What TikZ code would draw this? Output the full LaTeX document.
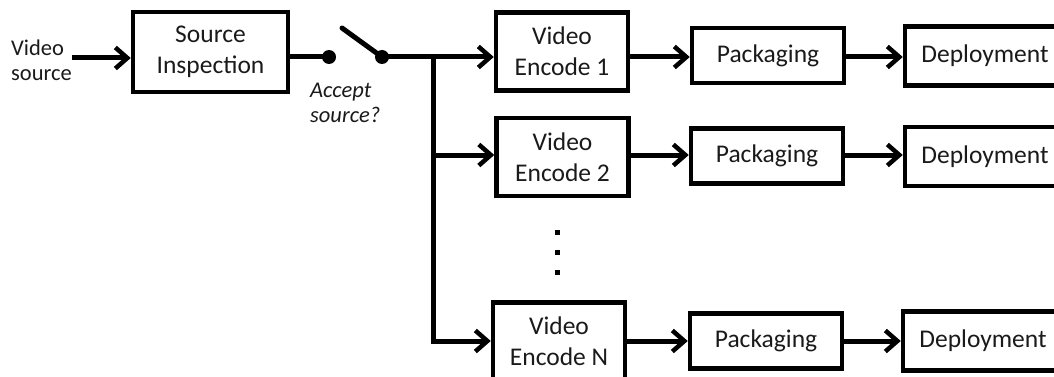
\documentclass[tikz,border=0pt]{standalone}
\usepackage{fontspec}
\setmainfont{Carlito}
\usetikzlibrary{arrows.meta}
\definecolor{ink}{HTML}{1A1A1A}
\tikzset{
  blk/.style={draw=black, line width=4.5pt, fill=white, text=ink, align=center,
              inner sep=0pt, font=\fontsize{25.5}{31}\selectfont},
  encbox/.style={blk, minimum width=132pt, minimum height=78pt},
  packbox/.style={blk, minimum width=152pt, minimum height=55pt},
  depbox/.style={blk, minimum width=160pt, minimum height=59pt},
  srcbox/.style={blk, minimum width=155pt, minimum height=80pt},
  wire/.style={line width=5pt, draw=black},
  arr/.style={wire, -{Straight Barb[length=12pt, width=21pt, line width=4.5pt]}},
  pin/.style={circle, fill=black, minimum size=14pt, inner sep=0pt},
  lbl/.style={text=ink, align=left, inner sep=0pt}
}
\begin{document}
\begin{tikzpicture}[x=1pt, y=-1pt, line join=miter]
\useasboundingbox (0,0) rectangle (1054,377);

% row levels of the signal lines
\coordinate (r1) at (0,57);
\coordinate (r2) at (0,155);
\coordinate (rN) at (0,341);

% input and inspection
\node[lbl, anchor=west, font=\fontsize{22.5}{25}\selectfont] (vin) at (11,60) {Video\\source};
\node[srcbox] (src) at (210.5,52) {Source\\Inspection};

% acceptance switch
\node[pin] (p1) at (329,57) {};
\node[pin] (p2) at (382,57) {};
\coordinate (lever) at (342,28);
\node[lbl, anchor=west, font=\fontsize{22.5}{25}\itshape\selectfont] (acc) at (310,103) {Accept\\source?};

% encoder branches
\node[encbox] (e1) at (562,51.5) {Video\\Encode 1};
\node[encbox] (e2) at (562.5,157) {Video\\Encode 2};
\node[encbox] (eN) at (559,341.5) {Video\\Encode N};

\node[packbox] (k1) at (768,55.5) {Packaging};
\node[packbox] (k2) at (767,156) {Packaging};
\node[packbox] (kN) at (766,341) {Packaging};

\node[depbox] (d1) at (985,56) {Deployment};
\node[depbox] (d2) at (985,156.5) {Deployment};
\node[depbox] (dN) at (983,341) {Deployment};

% more encoders in between
\foreach \yy [count=\i] in {232,252,272}
  \node[rectangle, fill=black, minimum size=5pt, inner sep=0pt] (dot\i) at (557,\yy) {};

% split point of the trunk
\coordinate (trunk) at (433,57);

% connectors
\draw[arr] (vin.east |- 0,58) -- (src.west |- 0,58);
\draw[wire] (src.east |- r1) -- (p1.center);
\draw[wire, line cap=round] (lever) -- (p2.center);
\draw[arr] (p2.center) -- (e1.west |- r1);
\draw[arr] (trunk) -- (trunk |- rN) -- (eN.west |- rN);
\draw[arr] (trunk |- r2) -- (e2.west |- r2);

\draw[arr] (e1.east |- r1) -- (k1.west |- r1);
\draw[arr] (k1.east |- r1) -- (d1.west |- r1);
\draw[arr] (e2.east |- r2) -- (k2.west |- r2);
\draw[arr] (k2.east |- r2) -- (d2.west |- r2);
\draw[arr] (eN.east |- rN) -- (kN.west |- rN);
\draw[arr] (kN.east |- rN) -- (dN.west |- rN);
\end{tikzpicture}
\end{document}
